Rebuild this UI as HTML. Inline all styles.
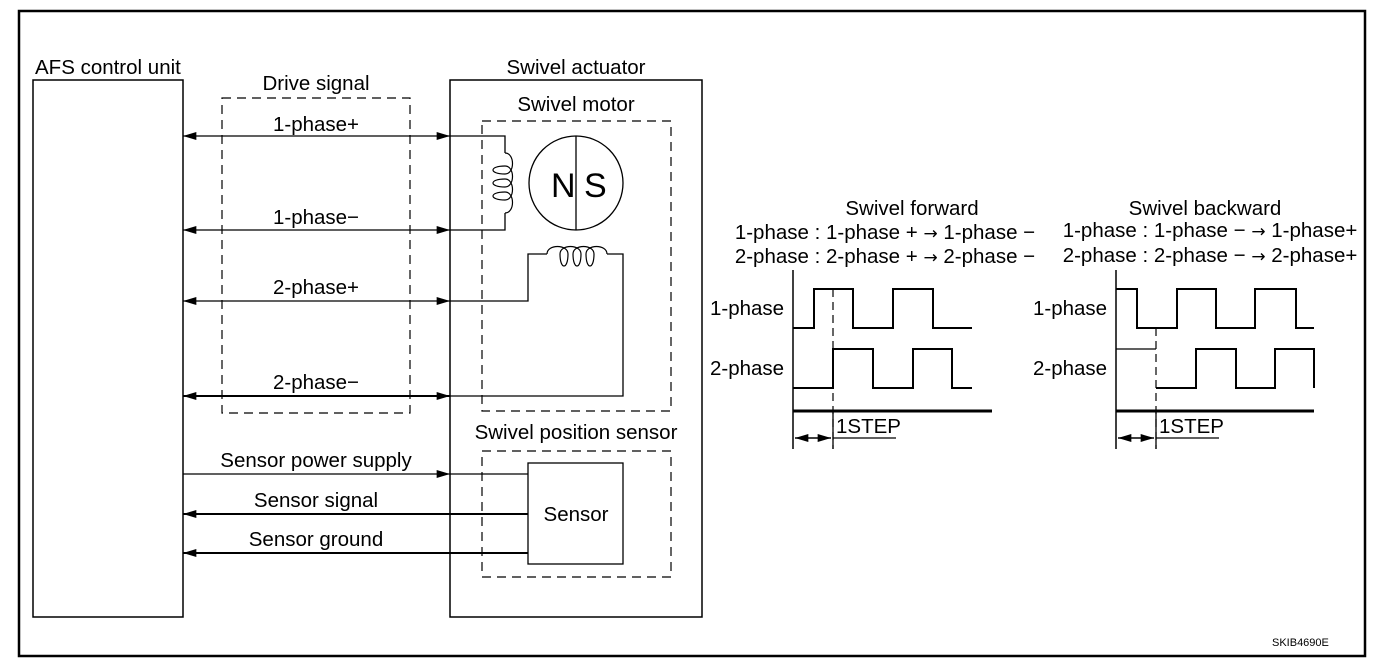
<!DOCTYPE html>
<html><head><meta charset="utf-8"><style>
html,body{margin:0;padding:0;background:#fff}
svg{display:block}
text{font-family:"Liberation Sans",Arial,sans-serif;font-size:20.5px;fill:#000}
.ar{font-family:"DejaVu Sans",sans-serif;font-size:17px}
</style></head><body>
<svg width="1392" height="658" viewBox="0 0 1392 658" xmlns="http://www.w3.org/2000/svg">
<defs>
<marker id="ar" viewBox="0 0 10 6" refX="10" refY="3" markerWidth="16" markerHeight="8" markerUnits="userSpaceOnUse" orient="auto-start-reverse"><path d="M0,0 L10,3 L0,6 z" fill="#000"/></marker>
</defs>
<rect x="19" y="11" width="1346" height="645" fill="none" stroke="#000" stroke-width="2.5"/>
<g fill="none" stroke="#000">
<rect x="33" y="80" width="150" height="537" stroke-width="1.5"/>
<rect x="450" y="80" width="252" height="537" stroke-width="1.5"/>
<rect x="222" y="98" width="188" height="315" stroke-dasharray="9,6" stroke-width="1.2"/>
<rect x="482" y="121" width="189" height="290" stroke-dasharray="9,6" stroke-width="1.2"/>
<rect x="482" y="451" width="189" height="126" stroke-dasharray="9,6" stroke-width="1.2"/>
<rect x="528" y="463" width="95" height="101" stroke-width="1.3"/>
<line x1="183" y1="136" x2="450" y2="136" stroke-width="1.2" marker-start="url(#ar)" marker-end="url(#ar)"/>
<line x1="183" y1="230" x2="450" y2="230" stroke-width="1.2" marker-start="url(#ar)" marker-end="url(#ar)"/>
<line x1="183" y1="301" x2="450" y2="301" stroke-width="1.2" marker-start="url(#ar)" marker-end="url(#ar)"/>
<line x1="183" y1="396" x2="450" y2="396" stroke-width="2" marker-start="url(#ar)" marker-end="url(#ar)"/>
<!-- coil 1 -->
<path d="M450,136 H505 V153 M505,213 V230 H450" stroke-width="1.3"/>
<path d="M505,153 c10,0 10,21 0,21 c-16,0 -16,-8 0,-8 c10,0 10,21 0,21 c-16,0 -16,-8 0,-8 c10,0 10,21 0,21 c-16,0 -16,-8 0,-8 c10,0 10,21 0,21" stroke-width="1.2"/>
<circle cx="576" cy="183" r="47" stroke-width="1.3"/>
<line x1="576" y1="136" x2="576" y2="230" stroke-width="1.3"/>
<!-- coil 2 -->
<path d="M450,301 H528 V254 H547 M607,254 H623 V396 H450" stroke-width="1.3"/>
<path d="M547,254 c0,-10 21,-10 21,0 c0,16 -8,16 -8,0 c0,-10 21,-10 21,0 c0,16 -8,16 -8,0 c0,-10 21,-10 21,0 c0,16 -8,16 -8,0 c0,-10 21,-10 21,0" stroke-width="1.2"/>
<line x1="183" y1="474" x2="450" y2="474" stroke-width="1.2" marker-end="url(#ar)"/>
<line x1="450" y1="474" x2="528" y2="474" stroke-width="1.2"/>
<line x1="183" y1="514" x2="528" y2="514" stroke-width="2" marker-start="url(#ar)"/>
<line x1="183" y1="553" x2="528" y2="553" stroke-width="2" marker-start="url(#ar)"/>

<line x1="793" y1="270" x2="793" y2="449" stroke-width="1.5"/>
<line x1="793" y1="411" x2="992" y2="411" stroke-width="3"/>
<path d="M793,328 H814 V289 H853 V328 H893 V289 H933 V328 H972" stroke-width="2"/>
<path d="M793,388 H833 V349 H873 V388 H913 V349 H952 V388 H972" stroke-width="2"/>
<line x1="833" y1="289" x2="833" y2="449" stroke-width="1.2" stroke-dasharray="8,5"/>
<line x1="833" y1="411" x2="833" y2="449" stroke-width="1.3"/>
<line x1="833" y1="438" x2="896" y2="438" stroke-width="1.2"/>
<line x1="795" y1="438" x2="831" y2="438" stroke-width="1.5" marker-start="url(#ar)" marker-end="url(#ar)"/>

<line x1="1116" y1="270" x2="1116" y2="449" stroke-width="1.5"/>
<line x1="1116" y1="411" x2="1314" y2="411" stroke-width="3"/>
<path d="M1116,289 H1137 V328 H1177 V289 H1216 V328 H1255 V289 H1296 V328 H1314" stroke-width="2"/>
<path d="M1116,349 H1156" stroke-width="1.2"/>
<path d="M1156,388 H1196 V349 H1236 V388 H1275 V349 H1314 V388" stroke-width="2"/>
<line x1="1156" y1="328" x2="1156" y2="449" stroke-width="1.2" stroke-dasharray="8,5"/>
<line x1="1156" y1="411" x2="1156" y2="449" stroke-width="1.3"/>
<line x1="1156" y1="438" x2="1219" y2="438" stroke-width="1.2"/>
<line x1="1118" y1="438" x2="1154" y2="438" stroke-width="1.5" marker-start="url(#ar)" marker-end="url(#ar)"/>
</g>

<text x="35" y="74">AFS control unit</text>
<text x="316" y="90" text-anchor="middle">Drive signal</text>
<text x="576" y="74" text-anchor="middle">Swivel actuator</text>
<text x="576" y="111" text-anchor="middle">Swivel motor</text>
<text x="316" y="131" text-anchor="middle">1-phase+</text>
<text x="316" y="224" text-anchor="middle">1-phase−</text>
<text x="316" y="294" text-anchor="middle">2-phase+</text>
<text x="316" y="389" text-anchor="middle">2-phase−</text>
<text x="551" y="197" style="font-size:34px">N</text>
<text x="584" y="197" style="font-size:34px">S</text>
<text x="576" y="439" text-anchor="middle">Swivel position sensor</text>
<text x="316" y="467" text-anchor="middle">Sensor power supply</text>
<text x="316" y="507" text-anchor="middle">Sensor signal</text>
<text x="316" y="546" text-anchor="middle">Sensor ground</text>
<text x="576" y="521" text-anchor="middle">Sensor</text>

<text x="912" y="215" text-anchor="middle">Swivel forward</text>
<text x="885" y="239" text-anchor="middle">1-phase : 1-phase + <tspan class="ar">→</tspan> 1-phase −</text>
<text x="885" y="263" text-anchor="middle">2-phase : 2-phase + <tspan class="ar">→</tspan> 2-phase −</text>
<text x="710" y="315">1-phase</text>
<text x="710" y="375">2-phase</text>
<text x="836" y="433">1STEP</text>

<text x="1205" y="215" text-anchor="middle">Swivel backward</text>
<text x="1210" y="237" text-anchor="middle">1-phase : 1-phase − <tspan class="ar">→</tspan> 1-phase+</text>
<text x="1210" y="262" text-anchor="middle">2-phase : 2-phase − <tspan class="ar">→</tspan> 2-phase+</text>
<text x="1033" y="315">1-phase</text>
<text x="1033" y="375">2-phase</text>
<text x="1159" y="433">1STEP</text>

<text x="1272" y="646" style="font-size:11px">SKIB4690E</text>
</svg>
</body></html>
